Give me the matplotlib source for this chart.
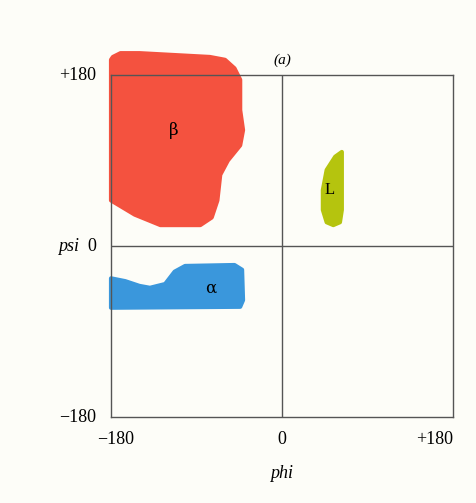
import matplotlib
matplotlib.use("Agg")
import matplotlib.pyplot as plt
from matplotlib.patches import Polygon

# Region outlines (phi, psi) in degrees
beta_phi = [-178, -170, -150, -76, -60, -50, -44, -44, -41, -44, -57, -65, -68, -74, -86, -128, -155, -180, -180]
beta_psi = [199, 203, 203, 199, 196, 187, 175, 143, 122, 106, 90, 75, 48, 30, 22, 22, 33, 48, 196]

alpha_phi = [-180, -165, -150, -139, -123, -113, -102, -50, -42, -41, -44, -180]
alpha_psi = [-34, -37, -42, -44, -40, -27, -21, -20, -25, -57, -64, -65]

l_phi = [63, 56, 47, 43, 43, 47, 54, 61, 63]
l_psi = [99, 94, 80, 59, 38, 25, 22, 25, 38]

region_labels = ["β", "α", "L"]
label_phi = [-114, -75, 50]
label_psi = [122, -44, 59]
region_colors = ["#f4523f", "#3a97dc", "#b5c40e"]

tick_vals = [-180, 0, 180]
tick_text = ["\u2212180", "0", "+180"]

fig = plt.figure(figsize=(4.77, 5.03), dpi=100)
fig.patch.set_facecolor("#fdfdf8")
ax = fig.add_axes([111/477, (503-417)/503, 342/477, 342/503])
ax.set_xlim(-180, 180)
ax.set_ylim(-180, 180)
ax.set_facecolor("#fdfdf8")
for s in ax.spines.values():
    s.set_color("#555555")
    s.set_linewidth(1.0)
    s.set_zorder(5)
ax.set_xticks([])
ax.set_yticks([])

for xs, ys, c in zip([beta_phi, alpha_phi, l_phi], [beta_psi, alpha_psi, l_psi], region_colors):
    poly = Polygon(list(zip(xs, ys)), closed=True, facecolor=c, edgecolor=c,
                   linewidth=3, joinstyle="round", clip_on=False, zorder=2)
    ax.add_patch(poly)

ax.axvline(0, color="#555555", lw=1.0, zorder=4)
ax.axhline(0, color="#555555", lw=1.0, zorder=4)

serif = "Liberation Serif"
for t, x, y in zip(region_labels, label_phi, label_psi):
    ax.text(x, y, t, fontsize=12, family=["DejaVu Serif"] if t != "L" else serif,
            ha="center", va="center", zorder=6)

# x tick labels
ax.text(-175, -204, tick_text[0], fontsize=13, family=serif, ha="center", va="center", clip_on=False)
ax.text(0, -204, tick_text[1], fontsize=13, family=serif, ha="center", va="center", clip_on=False)
ax.text(180, -204, tick_text[2], fontsize=13, family=serif, ha="right", va="center", clip_on=False)
# y tick labels
ax.text(-196, 180, tick_text[2], fontsize=13, family=serif, ha="right", va="center", clip_on=False)
ax.text(-196, -1, tick_text[1], fontsize=13, family=serif, ha="right", va="center", clip_on=False)
ax.text(-196, -180, tick_text[0], fontsize=13, family=serif, ha="right", va="center", clip_on=False)

ax.text(-214, -1, "psi", fontsize=13, family=serif, style="italic", ha="right", va="center", clip_on=False)
ax.text(0, -240, "phi", fontsize=13, family=serif, style="italic", ha="center", va="center", clip_on=False)
ax.text(0, 195, "(a)", fontsize=11, family=serif, style="italic", ha="center", va="center", clip_on=False)

fig.savefig("out.png", dpi=100, facecolor=fig.get_facecolor())
